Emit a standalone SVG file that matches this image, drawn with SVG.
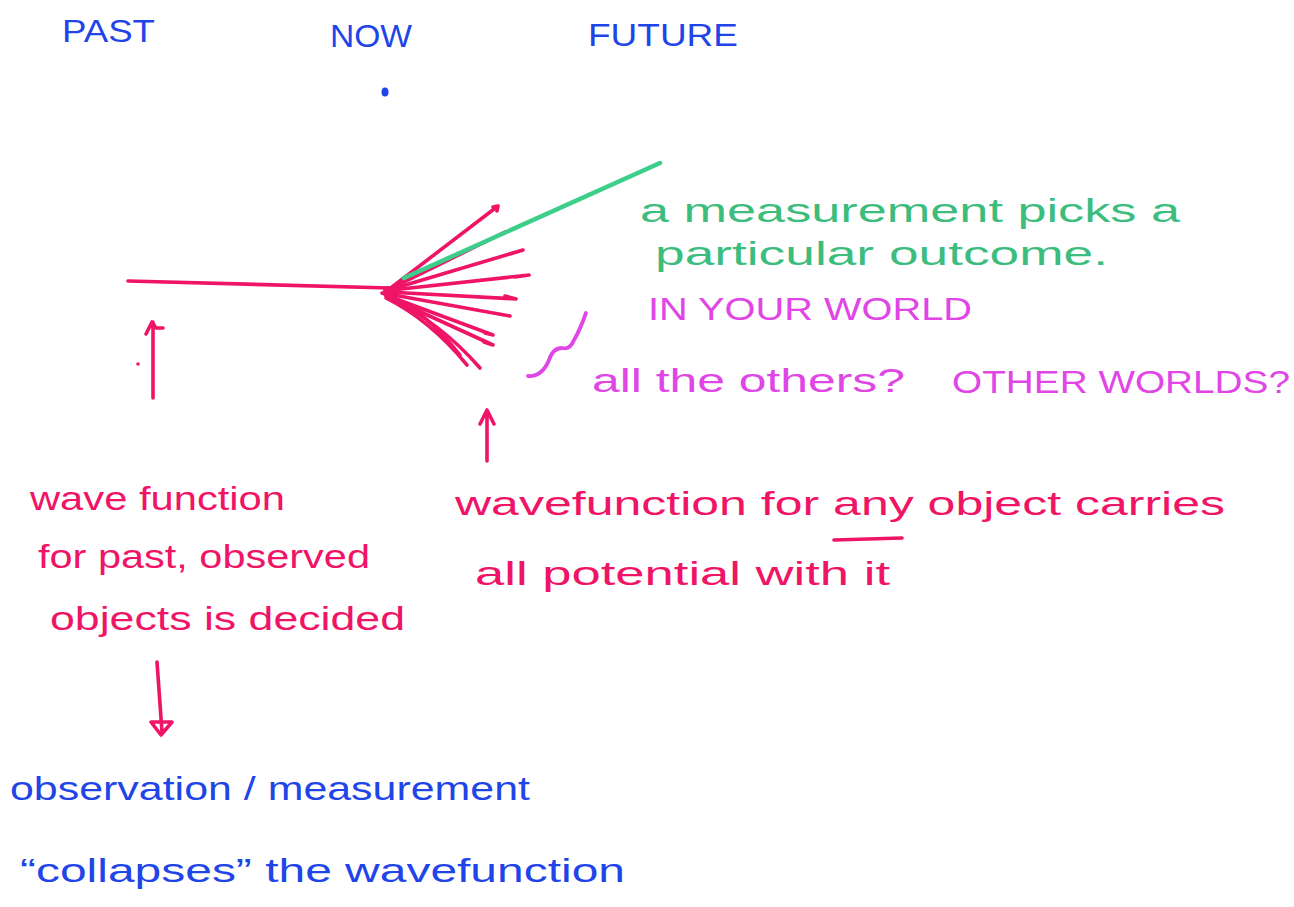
<svg xmlns="http://www.w3.org/2000/svg" width="1294" height="907" viewBox="0 0 1294 907">
  <style>
    text { font-family: "Liberation Sans", "Open Sans", sans-serif; }
    .blue { fill: #1f45e8; }
    .pink { fill: #ef1466; }
    .green { fill: #3dbd7d; }
    .mag { fill: #e045e6; }
    .caps { font-size: 32px; }
    .hand { font-size: 34px; }
    .ink { fill: none; stroke-linecap: round; stroke-linejoin: round; }
    .pk { stroke: #ef1466; stroke-width: 3.6; }
    .gr { stroke: #3dcf8a; stroke-width: 4.5; }
    .mg { stroke: #e045e6; stroke-width: 3.8; }
  </style>
  <rect width="1294" height="907" fill="#ffffff"/>

  <!-- timeline headings -->
  <g id="past"><text class="blue caps" x="62" y="42" textLength="93" lengthAdjust="spacingAndGlyphs">PAST</text></g>
  <g id="now">
    <text class="blue caps" x="330" y="47" textLength="82" lengthAdjust="spacingAndGlyphs">NOW</text>
    <ellipse cx="385" cy="92" rx="3.5" ry="4.5" fill="#1f45e8"/>
  </g>
  <g id="future"><text class="blue caps" x="588" y="46" textLength="150" lengthAdjust="spacingAndGlyphs">FUTURE</text></g>

  <!-- branching history -->
  <g id="connectors">
    <path class="ink pk" d="M128 281 L390 288" stroke-width="4.2"/>
    <!-- future branches fanning out from now -->
    <g class="ink pk">
      <path d="M392 287 L498 206 M493 207 L498 206 L497 211"/>
      <path d="M392 288 L505 232"/>
      <path d="M392 289 L523 250 M510 254 L523 250"/>
      <path d="M392 290 L529 275 M515 277 L529 275"/>
      <path d="M388 292 L516 299 M505 296 L516 299"/>
      <path d="M388 294 L510 316 M499 314 L510 316"/>
      <path d="M388 296 L493 335 M485 333 L493 335"/>
      <path d="M388 297 L493 345 M484 342 L493 345"/>
      <path d="M386 298 Q430 320 467 365"/>
      <path d="M386 296 Q440 322 480 368"/>
      <path d="M382 293 Q420 305 460 355"/>
      <circle cx="388" cy="291" r="5" fill="#ef1466" stroke="none"/>
    </g>
    <!-- the branch that is realised -->
    <path class="ink gr" d="M404 278 L660 163"/>

    <!-- arrows -->
    <path class="ink pk" d="M153 398 L153 322 M146 334 L152 322 L156 328 L163 328"/>
    <circle cx="138" cy="364" r="1.8" fill="#ef1466"/>
    <path class="ink pk" d="M487 461 L487 410 M480 424 L487 410 L494 424"/>
    <path class="ink pk" d="M157 662 L162 732 M151 722 L161 735 L172 722 Z"/>

    <!-- brace -->
    <path class="ink mg" d="M586 313 Q580 330 574 340 Q570 350 562 348 Q553 348 549 360 Q542 377 528 376"/>
  </g>

  <g id="measurement-note">
    <text class="green hand" x="640" y="222" textLength="540" lengthAdjust="spacingAndGlyphs">a measurement picks a</text>
    <text class="green hand" x="655" y="265" textLength="453" lengthAdjust="spacingAndGlyphs">particular outcome.</text>
  </g>
  <g id="your-world"><text class="mag caps" x="648" y="320" textLength="324" lengthAdjust="spacingAndGlyphs">IN YOUR WORLD</text></g>
  <g id="others">
    <text class="mag hand" x="592" y="392" textLength="313" lengthAdjust="spacingAndGlyphs">all the others?</text>
    <text class="mag caps" x="952" y="393" textLength="338" lengthAdjust="spacingAndGlyphs">OTHER WORLDS?</text>
  </g>

  <g id="past-note">
    <text class="pink hand" x="30" y="510" textLength="255" lengthAdjust="spacingAndGlyphs">wave function</text>
    <text class="pink hand" x="38" y="568" textLength="332" lengthAdjust="spacingAndGlyphs">for past, observed</text>
    <text class="pink hand" x="50" y="630" textLength="355" lengthAdjust="spacingAndGlyphs">objects is decided</text>
  </g>

  <g id="future-note">
    <text class="pink hand" x="455" y="515" textLength="770" lengthAdjust="spacingAndGlyphs">wavefunction for any object carries</text>
    <!-- underline beneath "any" -->
    <path class="ink pk" d="M834 540 L902 538" stroke-width="3.8"/>
    <text class="pink hand" x="475" y="585" textLength="415" lengthAdjust="spacingAndGlyphs">all potential with it</text>
  </g>

  <g id="collapse-note">
    <text class="blue hand" x="10" y="800" textLength="520" lengthAdjust="spacingAndGlyphs">observation / measurement</text>
    <text class="blue hand" x="20" y="882" textLength="605" lengthAdjust="spacingAndGlyphs">“collapses” the wavefunction</text>
  </g>
</svg>
